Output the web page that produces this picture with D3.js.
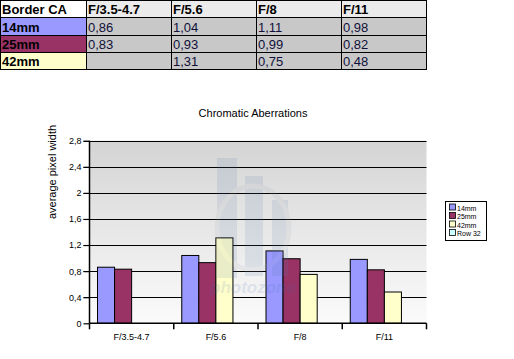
<!DOCTYPE html>
<html><head><meta charset="utf-8">
<script src="https://cdn.jsdelivr.net/npm/d3@7"></script>
<style>body{margin:0;background:#fff;}svg{display:block;font-family:"Liberation Sans",Arial,sans-serif;}</style>
</head><body>
<svg id="c" width="514" height="359"></svg>
<script>
const categories = ["F/3.5-4.7","F/5.6","F/8","F/11"];
const seriesNames = ["14mm","25mm","42mm","Row 32"];
const colors = ["#9999ff","#993366","#ffffcc","#ccffff"];
const v14 = [0.86,1.04,1.11,0.98];
const v25 = [0.83,0.93,0.99,0.82];
const v42 = [null,1.31,0.75,0.48];
const vRow32 = [null,null,null,null];
const yTicks = [0,0.4,0.8,1.2,1.6,2,2.4,2.8];
const tableHeader = ["Border CA","F/3.5-4.7","F/5.6","F/8","F/11"];
const tableRows = [
  ["14mm","0,86","1,04","1,11","0,98"],
  ["25mm","0,83","0,93","0,99","0,82"],
  ["42mm","","1,31","0,75","0,48"]
];
const series = [v14,v25,v42,vRow32];

const svg = d3.select("#c");

// ---- Table ----
const colX = [0,86,171,256,341,426];
const rowY = [0,17,35,52,69];
const tg = svg.append("g");
const allRows = [tableHeader].concat(tableRows);
allRows.forEach((row,ri)=>{
  row.forEach((txt,ci)=>{
    let fill;
    if (ri===0) fill = ci===0 ? "#ffffff" : "#ebebeb";
    else if (ci===0) fill = colors[ri-1];
    else fill = "#c8c8c8";
    tg.append("rect").attr("x",colX[ci]+0.5).attr("y",rowY[ri]+0.5)
      .attr("width",colX[ci+1]-colX[ci]).attr("height",rowY[ri+1]-rowY[ri])
      .attr("fill",fill).attr("stroke","#000").attr("stroke-width",1);
    tg.append("text").attr("x",colX[ci]+2).attr("y",rowY[ri+1]-3)
      .attr("font-size",13).attr("font-weight",(ri===0||ci===0)?"bold":"normal")
      .attr("fill",(ri===0||ci===0)?"#000":"#10103a")
      .text(txt);
  });
});

// ---- Chart ----
const L=89.5, R=426.5, T=140.7, B=323.3;
const x = d3.scaleBand().domain(categories).range([L,R]).paddingInner(0).paddingOuter(0);
const x1 = d3.scaleBand().domain(seriesNames).range([8, x.bandwidth()-8]).padding(0);
const y = d3.scaleLinear().domain([0,2.8]).range([B,T]);

const defs = svg.append("defs");
const grad = defs.append("linearGradient").attr("id","bg").attr("x1",0).attr("y1",0).attr("x2",0).attr("y2",1);
grad.append("stop").attr("offset","0%").attr("stop-color","#d4d4d4");
grad.append("stop").attr("offset","100%").attr("stop-color","#fbfbfb");
svg.append("rect").attr("x",L).attr("y",T).attr("width",R-L).attr("height",B-T).attr("fill","url(#bg)");

// gridlines
svg.append("g").selectAll("line").data(yTicks.filter(d=>d>0)).join("line")
  .attr("x1",L-6).attr("x2",R).attr("y1",d=>Math.round(y(d))+0.5).attr("y2",d=>Math.round(y(d))+0.5)
  .attr("stroke","#000").attr("stroke-width",1.2);

// bars
const bg = svg.append("g");
categories.forEach((c,ci)=>{
  series.forEach((s,si)=>{
    const v = s[ci];
    if (v==null) return;
    bg.append("rect").attr("x",x(c)+x1(seriesNames[si])).attr("y",y(v))
      .attr("width",x1.bandwidth()).attr("height",B-y(v))
      .attr("fill",colors[si]).attr("stroke","#000").attr("stroke-width",1);
  });
});

// watermark
const wm = svg.append("g").attr("opacity",0.13);
wm.append("rect").attr("x",217).attr("y",158).attr("width",20).attr("height",120).attr("fill","#5577aa");
wm.append("rect").attr("x",245).attr("y",176).attr("width",18).attr("height",100).attr("fill","#5577aa");
wm.append("rect").attr("x",272).attr("y",200).attr("width",16).attr("height",76).attr("fill","#5577aa");
wm.append("ellipse").attr("cx",253).attr("cy",228).attr("rx",36).attr("ry",42).attr("fill","none").attr("stroke","#9aa4b0").attr("stroke-width",5);
wm.append("text").attr("x",253).attr("y",293).attr("text-anchor","middle").attr("font-size",17).attr("font-style","italic").attr("font-weight","bold").attr("fill","#4466aa").text("photozone");

// y axis
const ya = svg.append("g").attr("transform",`translate(${L},0)`)
  .call(d3.axisLeft(y).tickValues(yTicks).tickSize(6).tickFormat(d=>String(d).replace(".",",")));
ya.select(".domain").attr("stroke","#000").attr("stroke-width",1.5).attr("d",`M0,${T}V${B}`);
ya.selectAll(".tick line").attr("stroke","#000").attr("stroke-width",1.2);
ya.selectAll("text").attr("font-size",9).attr("fill","#000").attr("font-family","Liberation Sans, Arial").attr("x",-8);

// x axis
const xa = svg.append("g").attr("transform",`translate(0,${B})`)
  .call(d3.axisBottom(x).tickSize(0).tickPadding(10));
xa.select(".domain").attr("stroke","#000").attr("stroke-width",1.5).attr("d",`M${L},0H${R}`);
xa.selectAll("text").attr("font-size",9).attr("fill","#000").attr("font-family","Liberation Sans, Arial");
const bounds = categories.map(c=>x(c)).concat([x(categories[categories.length-1])+x.bandwidth()]);
svg.append("g").selectAll("line").data(bounds).join("line")
  .attr("x1",d=>d).attr("x2",d=>d).attr("y1",B).attr("y2",B+6).attr("stroke","#000").attr("stroke-width",1.5);

// title
svg.append("text").attr("x",253).attr("y",117).attr("text-anchor","middle").attr("font-size",11).text("Chromatic Aberrations");
// y label
svg.append("text").attr("transform","translate(56,172) rotate(-90)").attr("text-anchor","middle").attr("font-size",11).text("average pixel width");

// legend
const lg = svg.append("g");
lg.append("rect").attr("x",445.5).attr("y",201.5).attr("width",41).attr("height",39).attr("fill","#fff").attr("stroke","#000").attr("stroke-width",1);
seriesNames.forEach((n,i)=>{
  const yy = 203.5 + i*8.5;
  lg.append("rect").attr("x",449.5).attr("y",yy+0.5).attr("width",6).attr("height",6).attr("fill",colors[i]).attr("stroke","#000").attr("stroke-width",0.8);
  lg.append("text").attr("x",457).attr("y",yy+7).attr("font-size",7).text(n);
});
</script>
</body></html>
